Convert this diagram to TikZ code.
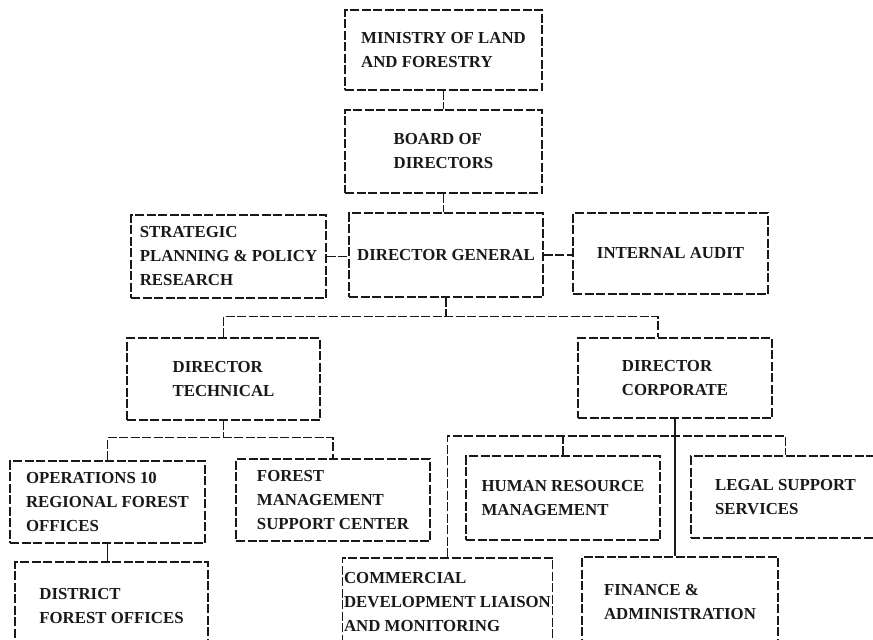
\documentclass[tikz,border=0pt]{standalone}
\usepackage{fontspec}
\setmainfont{Liberation Serif}
\definecolor{orgink}{RGB}{25,25,25}

\begin{document}
\begin{tikzpicture}[x=1pt,y=-1pt,line width=1.2pt,
  unit/.style={draw=orgink,dash pattern=on 9pt off 2.5pt,align=left,inner sep=2pt,
    font=\fontsize{16.8}{24}\selectfont\bfseries,text=orgink},
  link/.style={draw=orgink,dash pattern=on 9pt off 2.5pt}]
  \fill[white] (0,0) rectangle (873,640);
  \clip (0,0) rectangle (873,640);
  \node[unit,minimum width=197pt,minimum height=80pt] (mlf) at (443.5,50) {MINISTRY OF LAND\\AND FORESTRY};
  \node[unit,minimum width=197pt,minimum height=83pt] (bod) at (443.5,151.5) {BOARD OF\\DIRECTORS};
  \node[unit,minimum width=195pt,minimum height=83pt] (spr) at (228.5,256.5) {STRATEGIC\\PLANNING \& POLICY\\RESEARCH};
  \node[unit,minimum width=194pt,minimum height=84pt] (dg) at (446,255) {DIRECTOR GENERAL};
  \node[unit,minimum width=195pt,minimum height=81pt] (ia) at (670.5,253.5) {INTERNAL AUDIT};
  \node[unit,minimum width=193pt,minimum height=82pt] (dt) at (223.5,379) {DIRECTOR\\TECHNICAL};
  \node[unit,minimum width=194pt,minimum height=80pt] (dc) at (675,378) {DIRECTOR\\CORPORATE};
  \node[unit,minimum width=195pt,minimum height=82pt] (ops) at (107.5,502) {OPERATIONS 10\\REGIONAL FOREST\\OFFICES};
  \node[unit,minimum width=194pt,minimum height=82pt] (fmsc) at (333,500) {FOREST\\MANAGEMENT\\SUPPORT CENTER};
  \node[unit,minimum width=193pt,minimum height=88pt] (dfo) at (111.5,606) {DISTRICT\\FOREST OFFICES};
  \node[unit,minimum width=194pt,minimum height=84pt] (hrm) at (563,498) {HUMAN RESOURCE\\MANAGEMENT};
  \node[unit,minimum width=189pt,minimum height=82pt] (lss) at (785.5,497) {LEGAL SUPPORT\\SERVICES};
  \node[unit,minimum width=209pt,minimum height=88pt] (cdlm) at (447.5,602) {COMMERCIAL\\DEVELOPMENT LIAISON\\AND MONITORING};
  \node[unit,minimum width=196pt,minimum height=90pt] (fa) at (680,602) {FINANCE \&\\ADMINISTRATION};

  \draw[link] (mlf.south) -- (mlf.south |- bod.north);
  \draw[link] (bod.south) -- (bod.south |- dg.north);
  \draw[link] (spr.east) -- (spr.east -| dg.west);
  \draw[link] (dg.east) -- (dg.east -| ia.west);
  \draw[link] (dg.south) -- ++(0,19) coordinate (dgbus);
  \draw[link] (dt.north) |- (dgbus) -| ([xshift=-17pt]dc.north);
  \draw[link] (dt.south) -- ++(0,17) coordinate (dtbus);
  \draw[link] (ops.north) |- (dtbus) -| (fmsc.north);
  \draw[orgink] (ops.south) -- (ops.south |- dfo.north);
  \draw[orgink] (dc.south) -- (dc.south |- fa.north);
  \coordinate (dcbus) at (675,436);
  \draw[link] (cdlm.north) |- (dcbus) -| (lss.north);
  \draw[link] (hrm.north) -- (hrm.north |- dcbus);
\end{tikzpicture}
\end{document}
